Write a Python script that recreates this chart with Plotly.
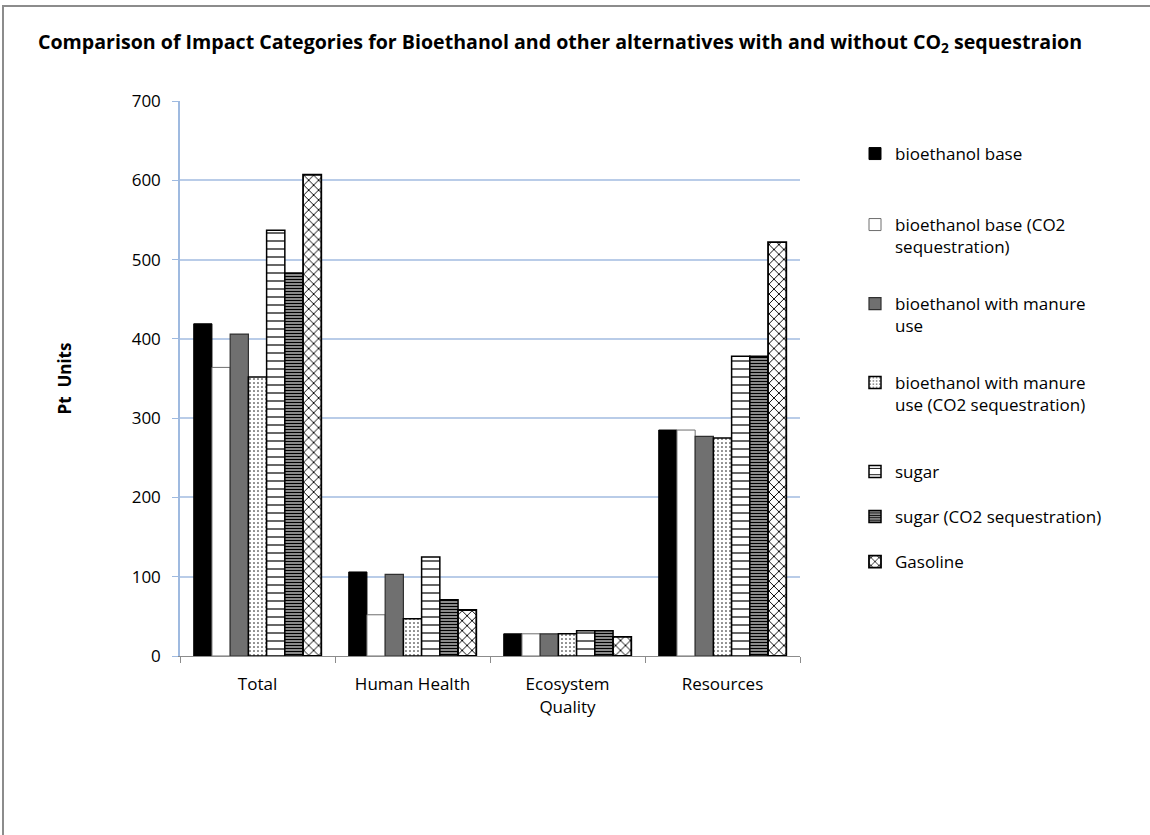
import plotly.graph_objects as go

# Impact categories (x axis) and Pt values for each alternative
categories = ["Total", "Human Health", "Ecosystem<br>Quality", "Resources"]
series_names = [
    "bioethanol base",
    "bioethanol base (CO2<br>sequestration)",
    "bioethanol with manure<br>use",
    "bioethanol with manure<br>use (CO2 sequestration)",
    "sugar",
    "sugar (CO2 sequestration)",
    "Gasoline",
]
bioethanol_base = [419, 106, 28, 285]
bioethanol_base_co2 = [364, 52, 28, 285]
bioethanol_manure = [406, 103, 28, 277]
bioethanol_manure_co2 = [352, 47, 28, 275]
sugar = [537, 125, 32, 378]
sugar_co2 = [483, 71, 32, 378]
gasoline = [607, 58, 24, 522]

y_ticks = [0, 100, 200, 300, 400, 500, 600, 700]

values = [bioethanol_base, bioethanol_base_co2, bioethanol_manure,
          bioethanol_manure_co2, sugar, sugar_co2, gasoline]

# fill style per series: (background, pattern shape, pattern colour, size, solidity, outline colour, outline width)
styles = [
    ("#000000", "", "#000000", 8, 0.3, "#000000", 1),
    ("#ffffff", "", "#000000", 8, 0.3, "#6e6e6e", 1),
    ("#707070", "", "#000000", 8, 0.3, "#303030", 1.2),
    ("#ffffff", ".", "#000000", 4, 0.12, "#000000", 1.5),
    ("#ffffff", "-", "#000000", 8, 0.15, "#000000", 1.5),
    ("#8a8a8a", "-", "#000000", 3, 0.35, "#000000", 1.5),
    ("#ffffff", "x", "#000000", 7, 0.25, "#000000", 1.8),
]

# top edge (px from top of page) of each legend entry box
legend_tops = [136, 207, 286, 365, 454, 499, 544]
W, H = 1150, 835
FONT = "Open Sans"

fig = go.Figure()
for i, (name, vals, st) in enumerate(zip(series_names, values, styles)):
    bg, shape, fg, size, sol, lc, lw = st
    lg = "legend" if i == 0 else f"legend{i + 1}"
    fig.add_trace(go.Bar(
        x=categories, y=vals, name=name, legend=lg, showlegend=True,
        marker=dict(
            color=bg,
            line=dict(color=lc, width=lw),
            pattern=dict(shape=shape, fgcolor=fg, bgcolor=bg, size=size,
                         solidity=sol, fillmode="replace"),
        ),
    ))

legend_font = dict(family=FONT, size=17, color="#000000")
layout_legends = {}
for i, top in enumerate(legend_tops):
    key = "legend" if i == 0 else f"legend{i + 1}"
    layout_legends[key] = dict(
        xref="container", yref="container",
        x=855 / W, y=1 - top / H, xanchor="left", yanchor="top",
        bgcolor="rgba(0,0,0,0)", font=legend_font, valign="top",
        itemwidth=30, tracegroupgap=0, visible=True,
    )

# plot area in page pixels
L, R, T, B = 180, 800, 101, 656
pw, ph = R - L, B - T

fig.update_layout(
    width=W, height=H,
    showlegend=True,
    margin=dict(l=L, r=W - R, t=T, b=H - B, autoexpand=False),
    paper_bgcolor="#ffffff", plot_bgcolor="#ffffff",
    barmode="group", bargap=0.177, bargroupgap=0,
    font=dict(family=FONT, size=17, color="#000000"),
    title=dict(
        text="<b>Comparison of Impact Categories for Bioethanol and other alternatives with and without CO<sub>2</sub> sequestraion</b>",
        xref="container", yref="container", x=38 / W, xanchor="left",
        y=1 - 42 / H, yanchor="middle",
        font=dict(family=FONT, size=19.6, color="#000000"),
    ),
    xaxis=dict(
        showline=True, linecolor="#8c8c8c", linewidth=1,
        ticks="outside", tickson="boundaries", ticklen=6, tickcolor="#8c8c8c",
        showgrid=False, tickfont=dict(size=17), ticklabelstandoff=13,
    ),
    yaxis=dict(
        range=[0, 700], tickvals=y_ticks, showline=True, linecolor="#9fbae0",
        linewidth=1.5, ticks="outside", ticklen=6, tickcolor="#9fbae0",
        gridcolor="#b9cce8", gridwidth=1.6, zeroline=False,
        tickfont=dict(size=17), ticklabelstandoff=8,
        title=dict(text="<b>Pt  Units</b>", standoff=56,
                   font=dict(size=17)),
    ),
    shapes=[dict(
        type="rect", xref="paper", yref="paper", layer="below",
        x0=(3 - L) / pw, x1=(1160 - L) / pw,
        y0=(B - 850) / ph, y1=(B - 6) / ph,
        line=dict(color="#8c8c8c", width=2), fillcolor="rgba(0,0,0,0)",
    )],
    **layout_legends,
)

fig.write_html("out.html")
